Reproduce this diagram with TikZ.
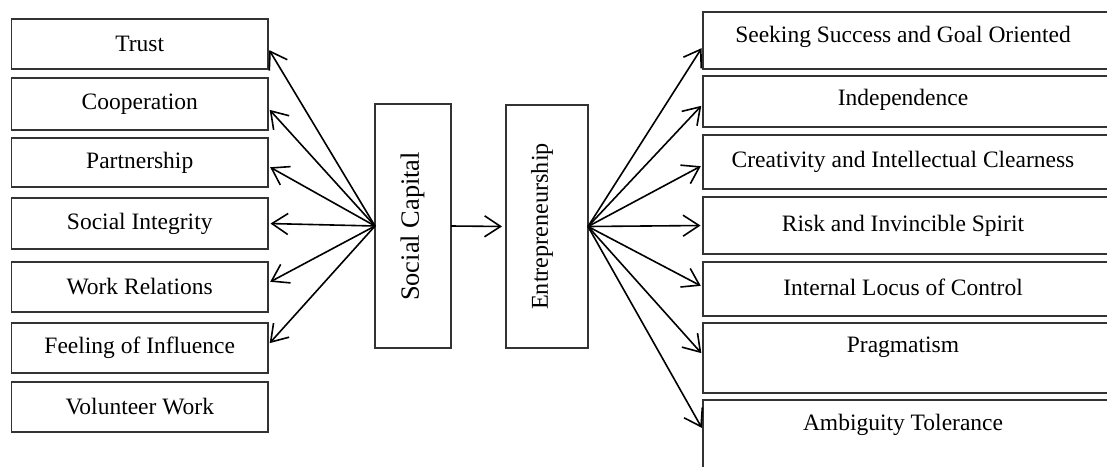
\documentclass[tikz,border=0pt]{standalone}
\usepackage{fontspec}
\setmainfont{Liberation Serif}
\usetikzlibrary{arrows.meta}
\begin{document}
\begin{tikzpicture}[x=1pt,y=-1pt,
  boxline/.style={draw=black!80,line width=1.2pt},
  lbox/.style={boxline,minimum width=256.5pt,inner sep=0pt,outer sep=0pt,font=\fontsize{23.5}{27}\selectfont},
  rbox/.style={minimum width=400pt,inner sep=0pt,outer sep=0pt},
  rtext/.style={inner sep=0pt,font=\fontsize{23.5}{27}\selectfont},
  vbox/.style={boxline,inner sep=0pt,outer sep=0pt},
  conn/.style={-{Straight Barb[length=16pt,width=21pt,line width=1.6pt]},line width=1.6pt,shorten >=2.5pt}]
\useasboundingbox (0,0) rectangle (1107,466);
% left column
\node[lbox,minimum height=50pt] (trust) at (139.75,44) {Trust};
\node[lbox,minimum height=52pt] (coop) at (139.75,104) {Cooperation};
\node[lbox,minimum height=49pt] (part) at (139.75,162.5) {Partnership};
\node[lbox,minimum height=51pt] (soci) at (139.75,223.5) {Social Integrity};
\node[lbox,minimum height=50pt] (work) at (139.75,287) {Work Relations};
\node[lbox,minimum height=50pt] (feel) at (139.75,348) {Feeling of Influence};
\node[lbox,minimum height=50pt] (vol) at (139.75,407) {Volunteer Work};
% middle
\node[vbox,minimum width=76pt,minimum height=244pt] (sc) at (413,226) {};
\node[rotate=90,inner sep=0pt,font=\fontsize{26.4}{30}\selectfont] (scT) at (412.5,226.5) {Social Capital};
\node[vbox,minimum width=82pt,minimum height=243pt] (ent) at (547,226.5) {};
\node[rotate=90,inner sep=0pt,font=\fontsize{24.2}{28}\selectfont] (entT) at (542,226.5) {Entrepreneurship};
% right column boxes (open on the right)
\node[rbox,minimum height=57pt] (seek) at (903,40.5) {};
\node[rbox,minimum height=51pt] (ind) at (903,101.5) {};
\node[rbox,minimum height=54pt] (crea) at (903,162) {};
\node[rbox,minimum height=57pt] (risk) at (903,225.5) {};
\node[rbox,minimum height=54pt] (intl) at (903,289) {};
\node[rbox,minimum height=70pt] (prag) at (903,358) {};
\node[rbox,minimum height=80pt] (amb) at (903,440) {};
\foreach \n in {seek,ind,crea,risk,intl,prag,amb}{
  \draw[boxline] ([xshift=20pt]\n.north east) -- (\n.north west) -- (\n.south west) -- ([xshift=20pt]\n.south east);
}
\node[rtext] (seekT) at (903,37) {Seeking Success and Goal Oriented};
\node[rtext] (indT) at (903,100) {Independence};
\node[rtext] (creaT) at (903,162) {Creativity and Intellectual Clearness};
\node[rtext] (riskT) at (903,226) {Risk and Invincible Spirit};
\node[rtext] (intlT) at (903,287) {Internal Locus of Control};
\node[rtext] (pragT) at (903,347) {Pragmatism};
\node[rtext] (ambT) at (903,425) {Ambiguity Tolerance};
% connectors left
\draw[conn] (sc.west) -- ([yshift=-4pt]trust.east);
\draw[conn] (sc.west) -- ([yshift=-4pt]coop.east);
\draw[conn] (sc.west) -- ([yshift=-3.5pt]part.east);
\draw[conn] (sc.west) -- (soci.east);
\draw[conn] (sc.west) -- ([yshift=4pt]work.east);
\draw[conn] (sc.west) -- ([yshift=3pt]feel.east);
% middle connector
\draw[conn,shorten >=4pt] (sc.east) -- (ent.west);
% connectors right
\draw[conn] (ent.east) -- ([yshift=-5.5pt]seek.west);
\draw[conn] (ent.east) -- ([yshift=-2.5pt]ind.west);
\draw[conn] (ent.east) -- ([yshift=-3pt]crea.west);
\draw[conn] (ent.east) -- (risk.west);
\draw[conn] (ent.east) -- ([yshift=2pt]intl.west);
\draw[conn] (ent.east) -- ([yshift=3pt]prag.west);
\draw[conn] (ent.east) -- ([yshift=10pt]amb.west);
\end{tikzpicture}
\end{document}
